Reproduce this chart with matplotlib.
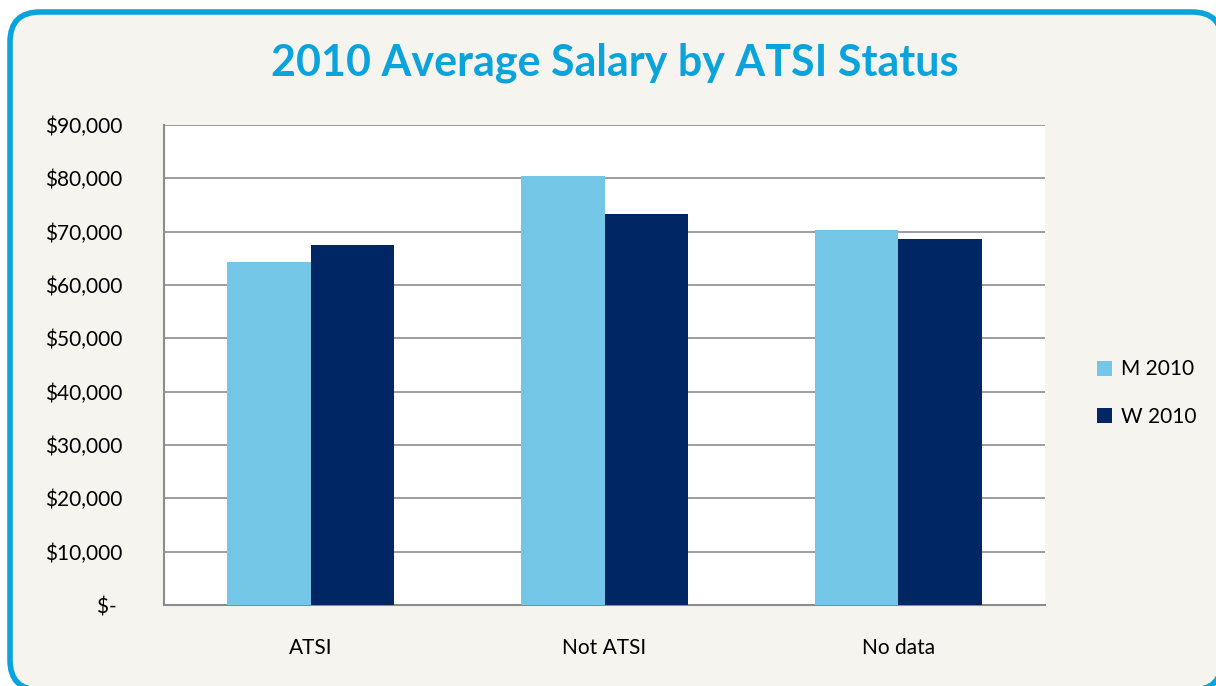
import matplotlib.pyplot as plt
from matplotlib.patches import FancyBboxPatch
import numpy as np

categories = ['ATSI', 'Not ATSI', 'No data']
m_2010 = [64300, 80500, 70400]
w_2010 = [67500, 73400, 68600]
series_labels = ['M 2010', 'W 2010']
yticks = [0, 10000, 20000, 30000, 40000, 50000, 60000, 70000, 80000, 90000]

plt.rcParams['font.family'] = ['Lato', 'DejaVu Sans']

fig = plt.figure(figsize=(12.16, 6.86), dpi=100, facecolor='white')

# rounded frame, drawn in pixel coordinates
bg = fig.add_axes([0, 0, 1, 1])
bg.set_xlim(0, 1216)
bg.set_ylim(686, 0)
bg.axis('off')
frame = FancyBboxPatch((10, 12), 1212, 678, boxstyle='round,pad=0,rounding_size=30',
                       facecolor='#F5F4EE', edgecolor='#0AA3DC', linewidth=4)
bg.add_patch(frame)

fig.text(615 / 1216, 1 - 63 / 686, '2010 Average Salary by ATSI Status',
         ha='center', va='center', fontsize=31, fontweight='bold', color='#0AA3DC')

ax = fig.add_axes([164 / 1216, 81 / 686, 881 / 1216, 480 / 686])
ax.set_facecolor('white')

x = np.arange(len(categories))
w = 0.284
ax.bar(x - w / 2, m_2010, width=w, color='#73C6E6', label=series_labels[0], zorder=3)
ax.bar(x + w / 2, w_2010, width=w, color='#002663', label=series_labels[1], zorder=3)

ax.set_xlim(-0.5, 2.5)
ax.set_ylim(0, 90000)
ax.set_yticks(yticks)
ax.set_yticklabels(['$- ' if v == 0 else f'${v:,.0f}' for v in yticks])
ax.set_xticks(x)
ax.set_xticklabels(categories)
ax.tick_params(length=0, labelsize=15, colors='black')
ax.tick_params(axis='y', pad=30)
ax.tick_params(axis='x', pad=24)
ax.yaxis.grid(True, color='#8C8C8C', linewidth=1.2, zorder=0)
for s in ['top', 'right']:
    ax.spines[s].set_visible(False)
for s in ['left', 'bottom']:
    ax.spines[s].set_color('#8C8C8C')
    ax.spines[s].set_linewidth(1.5)

fig.legend(loc='center left', bbox_to_anchor=(1078 / 1216, 1 - 393 / 686), frameon=False,
           fontsize=15, handlelength=0.75, handleheight=0.75, handletextpad=0.4,
           labelspacing=1.3)

fig.savefig('out.png', dpi=100, facecolor='white')
